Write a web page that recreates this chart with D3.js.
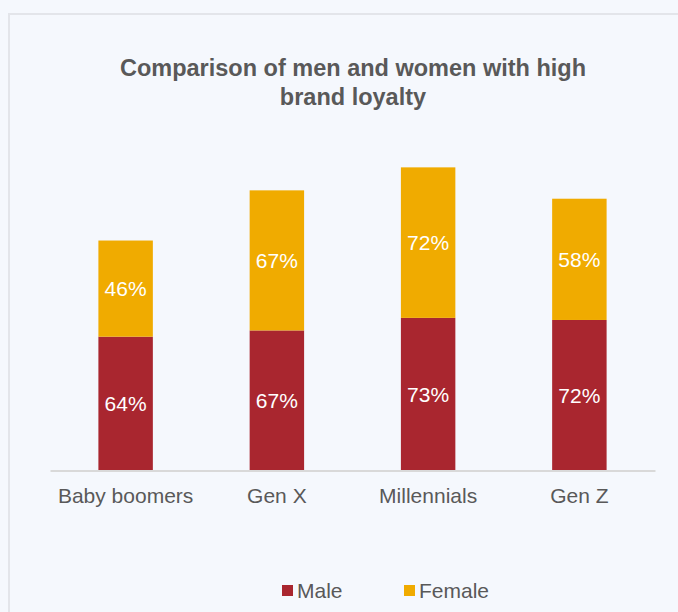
<!DOCTYPE html>
<html>
<head>
<meta charset="utf-8">
<script src="https://cdn.jsdelivr.net/npm/d3@7"></script>
<style>
  body { margin: 0; background: #f5f8fd; }
  svg { display: block; }
</style>
</head>
<body>
<svg id="chart"></svg>
<script>
const categories = ["Baby boomers", "Gen X", "Millennials", "Gen Z"];
const maleValues = [64, 67, 73, 72];
const femaleValues = [46, 67, 72, 58];
const seriesNames = ["Male", "Female"];
const seriesColors = ["#a9262f", "#f0ab00"];

const W = 678, H = 612;
const font = "Liberation Sans, Arial, sans-serif";
const svg = d3.select("#chart").attr("width", W).attr("height", H);

// panel border (runs off right / bottom edges)
svg.append("rect")
    .attr("x", 9).attr("y", 14)
    .attr("width", W).attr("height", H)
    .attr("fill", "#f5f8fd")
    .attr("stroke", "#e3e5ea")
    .attr("stroke-width", 2);

// title
const title = ["Comparison of men and women with high", "brand loyalty"];
svg.append("g").selectAll("text").data(title).enter()
    .append("text")
    .attr("x", 353)
    .attr("y", (d, i) => 76 + i * 29)
    .attr("text-anchor", "middle")
    .style("font-family", font)
    .style("font-size", "23.5px")
    .style("font-weight", 700)
    .attr("fill", "#595959")
    .text(d => d);

const data = categories.map((c, i) => ({ cat: c, male: maleValues[i], female: femaleValues[i] }));
const stack = d3.stack().keys(["male", "female"])(data);

const x = d3.scaleBand().domain(categories).range([50, 655]).paddingInner(0.64).paddingOuter(0.32);
const y = d3.scaleLinear().domain([0, 160]).range([470.5, 136]);

const g = svg.append("g");
stack.forEach((s, si) => {
  g.append("g").selectAll("rect").data(s).enter()
    .append("rect")
    .attr("x", d => x(d.data.cat))
    .attr("width", x.bandwidth())
    .attr("y", d => y(d[1]))
    .attr("height", d => y(d[0]) - y(d[1]))
    .attr("fill", seriesColors[si]);

  g.append("g").selectAll("text").data(s).enter()
    .append("text")
    .attr("x", d => x(d.data.cat) + x.bandwidth() / 2)
    .attr("y", d => (y(d[0]) + y(d[1])) / 2)
    .attr("dy", "0.35em")
    .attr("text-anchor", "middle")
    .style("font-family", font)
    .style("font-size", "21px")
    .attr("fill", "#ffffff")
    .text(d => (d[1] - d[0]) + "%");
});

// x axis
const xAxis = svg.append("g")
    .attr("transform", `translate(0,${y(0)})`)
    .call(d3.axisBottom(x).tickSize(0).tickPadding(18));
xAxis.select(".domain").attr("stroke", "#d9d9d9").attr("stroke-width", 2);
xAxis.selectAll("text")
    .style("font-family", font)
    .style("font-size", "21px")
    .attr("fill", "#595959");

// legend
const legendX = [282, 404];
const legend = svg.append("g").selectAll("g").data(seriesNames).enter()
    .append("g")
    .attr("transform", (d, i) => `translate(${legendX[i]},585)`);
legend.append("rect")
    .attr("width", 11).attr("height", 11)
    .attr("fill", (d, i) => seriesColors[i]);
legend.append("text")
    .attr("x", 15).attr("y", 5.5)
    .attr("dy", "0.35em")
    .style("font-family", font)
    .style("font-size", "21px")
    .attr("fill", "#595959")
    .text(d => d);
</script>
</body>
</html>
